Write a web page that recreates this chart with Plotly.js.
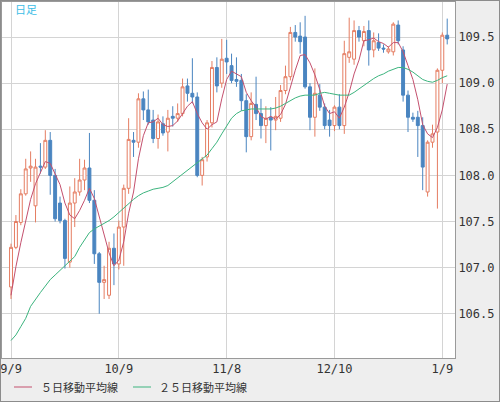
<!DOCTYPE html>
<html>
<head>
<meta charset="utf-8">
<script src="https://cdn.plot.ly/plotly-3.0.1.min.js"></script>
<style>
body{margin:0;background:#fff}
#wrap{position:relative;width:500px;height:402px}
#chart{width:500px;height:402px}
#frame{position:absolute;left:0;top:0;width:500px;height:402px;box-sizing:border-box;border:1px solid #8c8c8c;pointer-events:none}
</style>
</head>
<body>
<div id="wrap"><div id="chart"></div><div id="frame"></div></div>
<script>
// Daily candles, 2019/9/9 .. 2020/1/10 (one entry per trading day)
const openV  = [106.79,107.22,107.49,107.80,108.08,107.67,108.10,108.09,108.38,108.00,
                107.70,107.51,107.06,107.70,107.82,107.95,108.08,107.73,107.15,106.84,
                106.70,107.21,107.04,107.44,107.86,108.38,108.36,108.83,108.71,108.60,
                108.40,108.56,108.47,108.64,108.62,108.67,108.97,108.89,108.85,108.00,
                108.20,108.57,109.17,109.00,109.27,109.19,109.04,109.03,108.81,108.42,
                108.77,108.67,108.54,108.63,108.60,108.62,108.92,109.07,109.55,109.51,
                109.50,108.96,108.63,108.87,108.74,108.60,108.54,108.74,108.54,109.28,
                109.26,109.57,109.46,109.57,109.36,109.44,109.38,109.34,109.34,109.63,
                109.36,108.87,108.63,108.63,108.54,107.82,108.36,108.47,109.14,109.52];
const highV  = [107.26,107.57,107.85,108.18,108.26,108.18,108.35,108.49,108.47,108.07,
                107.77,107.53,107.88,107.97,108.18,108.17,108.46,107.84,107.17,107.02,
                107.28,107.37,107.51,107.90,108.62,108.47,108.89,108.91,108.93,108.71,
                108.66,108.64,108.71,108.75,108.78,109.05,109.05,109.27,108.90,108.20,
                108.60,109.24,109.28,109.48,109.47,109.32,109.28,109.10,108.88,108.90,
                109.07,108.83,108.75,108.74,108.85,108.98,109.19,109.61,109.63,109.66,
                109.73,109.00,109.16,108.99,108.78,108.71,108.76,108.88,109.46,109.71,
                109.68,109.62,109.62,109.68,109.55,109.54,109.42,109.40,109.66,109.68,
                109.40,108.92,108.68,108.70,108.63,108.38,108.55,109.16,109.55,109.70];
const lowV   = [106.66,107.20,107.46,107.78,107.93,107.49,108.02,108.07,107.79,107.50,
                107.48,106.99,107.00,107.44,107.78,107.84,107.70,107.04,106.50,106.66,
                106.66,106.81,106.98,107.02,107.80,108.20,108.30,108.60,108.55,108.35,
                108.29,108.43,108.26,108.53,108.58,108.64,108.80,108.78,107.98,107.89,
                108.15,108.52,108.90,108.95,109.10,109.00,108.96,108.70,108.25,108.38,
                108.60,108.40,108.35,108.27,108.49,108.58,108.88,109.03,109.45,109.32,
                108.94,108.49,108.42,108.70,108.50,108.42,108.48,108.50,108.45,109.22,
                109.20,109.45,109.40,109.19,109.28,109.35,109.33,109.32,109.30,109.42,
                108.80,108.47,108.58,108.20,107.84,107.77,108.30,107.64,109.00,109.42];
const closeV = [107.22,107.50,107.80,108.07,108.10,108.09,108.09,108.38,108.00,107.53,
                107.51,107.10,107.70,107.82,107.95,108.08,107.73,107.15,106.84,106.87,
                107.21,107.04,107.44,107.86,108.39,108.36,108.83,108.71,108.58,108.40,
                108.58,108.46,108.62,108.62,108.67,108.96,108.89,108.85,108.00,108.17,
                108.57,109.17,108.97,109.26,109.23,109.03,109.02,108.81,108.42,108.78,
                108.67,108.54,108.62,108.60,108.64,108.92,109.07,109.55,109.50,109.45,
                108.96,108.63,108.89,108.74,108.54,108.54,108.74,108.54,109.32,109.34,
                109.57,109.50,109.56,109.36,109.46,109.38,109.37,109.37,109.64,109.46,
                108.87,108.63,108.61,108.54,108.09,108.36,108.45,109.14,109.52,109.48];
// Moving averages
const ma5  = [106.70,107.01,107.27,107.50,107.74,107.91,108.03,108.15,108.13,108.02,
              107.90,107.70,107.57,107.53,107.62,107.73,107.86,107.75,107.55,107.33,
              107.16,107.02,107.08,107.28,107.59,107.82,108.18,108.43,108.57,108.58,
              108.62,108.55,108.53,108.54,108.59,108.67,108.75,108.80,108.67,108.57,
              108.50,108.55,108.58,108.83,109.04,109.13,109.10,109.07,108.90,108.81,
              108.74,108.64,108.61,108.64,108.61,108.66,108.77,108.96,109.14,109.30,
              109.31,109.22,109.09,108.93,108.75,108.67,108.69,108.62,108.74,108.90,
              109.10,109.25,109.46,109.47,109.49,109.45,109.43,109.39,109.44,109.44,
              109.34,109.19,109.04,108.82,108.55,108.45,108.41,108.52,108.71,108.99];
const ma25 = [106.21,106.27,106.36,106.45,106.58,106.66,106.73,106.80,106.87,106.92,
              106.97,107.02,107.06,107.12,107.22,107.30,107.38,107.42,107.45,107.48,
              107.51,107.55,107.60,107.64,107.69,107.74,107.78,107.81,107.83,107.85,
              107.86,107.87,107.89,107.93,107.98,108.02,108.06,108.10,108.13,108.17,
              108.22,108.29,108.36,108.45,108.54,108.62,108.67,108.70,108.71,108.72,
              108.72,108.72,108.72,108.72,108.73,108.75,108.78,108.81,108.84,108.86,
              108.87,108.87,108.87,108.89,108.90,108.89,108.88,108.87,108.87,108.87,
              108.90,108.94,108.98,109.02,109.05,109.08,109.10,109.13,109.15,109.17,
              109.17,109.15,109.12,109.08,109.04,109.02,109.01,109.03,109.06,109.08];
const tickLabels = ['9/9','10/9','11/8','12/10','1/9'];
const tickDays   = [0,22,44,66,88];
const seriesNames = ['５日移動平均線','２５日移動平均線'];
const panelTitle = '日足';

const idx = closeV.map((_, i) => i);
const UP = '#e57d62', DOWN = '#4a85c0', C5 = '#c4506e', C25 = '#3cb47e';
const mono = 'DejaVu Sans Mono, monospace';
const jp = 'Noto Sans CJK JP, sans-serif';

const traces = [
  {type:'candlestick', x:idx, open:openV, high:highV, low:lowV, close:closeV,
   increasing:{line:{color:UP,width:1}, fillcolor:'#ffffff'},
   decreasing:{line:{color:DOWN,width:1}, fillcolor:DOWN},
   whiskerwidth:0, hoverinfo:'skip', showlegend:false},
  {type:'scatter', mode:'lines', x:idx, y:ma5, line:{color:C5,width:1}, name:seriesNames[0], showlegend:false, hoverinfo:'skip'},
  {type:'scatter', mode:'lines', x:idx, y:ma25, line:{color:C25,width:1}, name:seriesNames[1], showlegend:false, hoverinfo:'skip'}
];

const W = 453, Hh = 356;
const px = v => (v - 2) / W;
const py = v => 1 - (v - 2) / Hh;

const layout = {
  width:500, height:402,
  margin:{l:2, r:45, t:2, b:44, pad:0},
  paper_bgcolor:'#eeeeee', plot_bgcolor:'#ffffff',
  showlegend:false,
  boxgap:0.15,
  xaxis:{range:[-1.84,90.59], tickmode:'array', tickvals:tickDays, ticktext:tickLabels,
         showgrid:true, gridcolor:'#d4d4d4', gridwidth:1, zeroline:false,
         showline:true, mirror:true, linecolor:'#9a9a9a', linewidth:1,
         ticks:'', rangeslider:{visible:false}, fixedrange:true,
         tickfont:{family:mono, size:12, color:'#333333'}},
  yaxis:{side:'right', range:[106.02,109.88], tick0:106.5, dtick:0.5, tickformat:'.1f',
         showgrid:true, gridcolor:'#d4d4d4', gridwidth:1, zeroline:false,
         showline:true, mirror:true, linecolor:'#9a9a9a', linewidth:1,
         ticks:'', fixedrange:true,
         tickfont:{family:mono, size:12, color:'#333333'}},
  annotations:[
    {text:panelTitle, xref:'paper', yref:'paper', x:px(13), y:py(9), xanchor:'left', yanchor:'middle',
     showarrow:false, font:{family:jp, size:11, color:'#3cbde6'}},
    {text:seriesNames[0], xref:'paper', yref:'paper', x:px(39), y:py(387), xanchor:'left', yanchor:'middle',
     showarrow:false, font:{family:jp, size:11, color:'#333333'}},
    {text:seriesNames[1], xref:'paper', yref:'paper', x:px(157), y:py(387), xanchor:'left', yanchor:'middle',
     showarrow:false, font:{family:jp, size:11, color:'#333333'}}
  ],
  shapes:[
    {type:'line', xref:'paper', yref:'paper', x0:px(14), x1:px(32), y0:py(387), y1:py(387), line:{color:C5,width:1}},
    {type:'line', xref:'paper', yref:'paper', x0:px(133), x1:px(151), y0:py(387), y1:py(387), line:{color:C25,width:1}}
  ]
};

Plotly.newPlot('chart', traces, layout, {displayModeBar:false, staticPlot:true});
</script>
</body>
</html>
